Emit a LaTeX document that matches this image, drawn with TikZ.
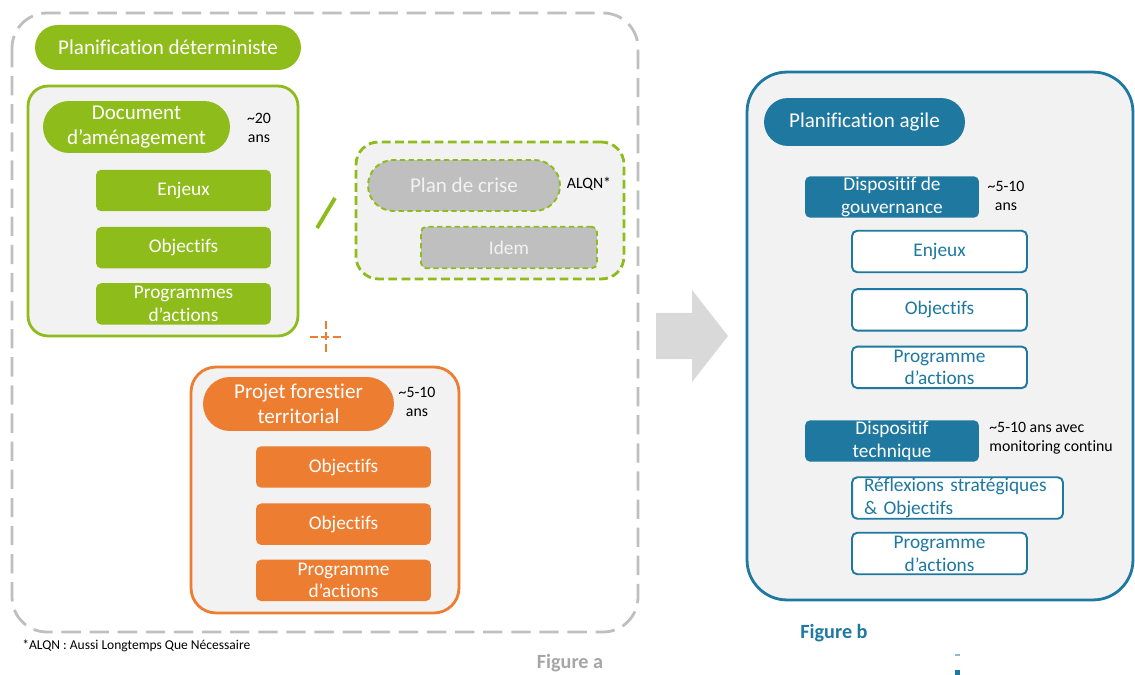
\documentclass[tikz,border=0pt]{standalone}
\usepackage{fontspec}
\setmainfont{Carlito}[Ligatures=NoCommon]
\usepackage{tikz}
\usetikzlibrary{positioning,shapes.misc}
\definecolor{vert}{RGB}{142,188,26}
\definecolor{ora}{RGB}{237,125,49}
\definecolor{bleu}{RGB}{30,120,160}
\definecolor{fond}{RGB}{242,242,242}
\definecolor{gris}{RGB}{191,191,191}
\definecolor{flec}{RGB}{217,217,217}
\definecolor{figa}{RGB}{166,166,166}

\begin{document}
\begin{tikzpicture}[x=0.02cm,y=-0.02cm,
  pill/.style={rounded rectangle,inner sep=0pt,align=center,text=white,font=\fontsize{12}{14}\selectfont},
  bloc/.style={rectangle,rounded corners=3pt,inner sep=0pt,align=center,minimum width=3.5cm,minimum height=0.83cm,font=\fontsize{11}{13}\selectfont},
  cadre/.style={rectangle,draw,line width=1.6pt,fill=fond,inner sep=0pt},
  note/.style={font=\fontsize{9}{11}\selectfont,align=center},
  vide/.style={bloc,draw=bleu,fill=white,text=bleu,line width=1.1pt}]
  \useasboundingbox (0,0) rectangle (1135,675);
  % figure a
  \draw[gris,line width=1.6pt,dash pattern=on 11pt off 5pt,rounded corners=0.7cm] (12,13) rectangle (638,632);
  \node[pill,fill=vert,minimum width=5.32cm,minimum height=0.9cm] (detpill) at (168,47.5) {Planification déterministe};
  \node[cadre,draw=vert,rounded corners=0.4cm,minimum width=5.4cm,minimum height=5cm] (amen) at (163,211) {};
  \node[pill,fill=vert,minimum width=3.74cm,minimum height=1.04cm] (doc) at (136.5,127) {Document\\d’aménagement};
  \node[note] (doc-ans) at (259,128) {\textasciitilde20\\ans};
  \node[bloc,fill=vert,text=white] (enjeux) at (183.5,190.5) {Enjeux};
  \node[bloc,fill=vert,text=white,below=0.3cm of enjeux] (obj) {Objectifs};
  \node[bloc,fill=vert,text=white,below=0.28cm of obj] (prog) {Programmes\\d’actions};
  \draw[vert,line width=2.2pt] (317,228) -- (335,198);
  % plan de crise
  \node[cadre,draw=vert,dash pattern=on 5pt off 2.5pt,rounded corners=0.45cm,minimum width=5.36cm,minimum height=2.74cm] (crise) at (490,210.5) {};
  \node[pill,fill=gris,text=fond,draw=vert,line width=1.1pt,dash pattern=on 3pt off 2pt,minimum width=3.84cm,minimum height=1.02cm] (plan) at (464,185.5) {Plan de crise};
  \node[note] (alqn) at (589,184) {ALQN*};
  \node[bloc,fill=gris,text=fond,draw=vert,line width=1.1pt,dash pattern=on 3pt off 2pt,minimum width=3.52cm] (idem) at (509,247.5) {Idem};
  \draw[ora,line width=1.6pt,dash pattern=on 4.5pt off 2pt] (310,337) -- (342,337) (326,321) -- (326,353);
  % projet forestier
  \node[cadre,draw=ora,rounded corners=0.5cm,minimum width=5.36cm,minimum height=4.92cm] (pft) at (325,490) {};
  \node[pill,fill=ora,minimum width=3.82cm,minimum height=1.08cm] (projet) at (298.5,404) {Projet forestier\\territorial};
  \node[note] (pft-ans) at (417,402) {\textasciitilde5-10\\ans};
  \node[bloc,fill=ora,text=white] (pobj1) at (343.5,467) {Objectifs};
  \node[bloc,fill=ora,text=white,below=0.3cm of pobj1] (pobj2) {Objectifs};
  \node[bloc,fill=ora,text=white,below=0.28cm of pobj2] (pprog) {Programme\\d’actions};
  \node[anchor=west,font=\fontsize{7.7}{10}\selectfont,inner sep=0pt] (renvoi) at (22,646) {*ALQN : Aussi Longtemps Que Nécessaire};
  \node[font=\bfseries\fontsize{11.5}{13}\selectfont,text=figa] (figa) at (570,663) {Figure a};
  % fleche
  \fill[flec] (656,313) -- (692,313) -- (692,290) -- (728,336) -- (692,382) -- (692,359) -- (656,359) -- cycle;
  % figure b
  \node[cadre,draw=bleu,rounded corners=0.8cm,minimum width=7.72cm,minimum height=10.56cm] (agile) at (940,336) {};
  \node[pill,fill=bleu,minimum width=4.02cm,minimum height=0.96cm] (agpill) at (864.5,122) {Planification agile};
  \node[bloc,fill=bleu,text=white,minimum width=3.48cm] (gouv) at (892,197) {Dispositif de\\gouvernance};
  \node[note] (gouv-ans) at (1006,196) {\textasciitilde5-10\\ans};
  \node[vide] (benj) at (939.5,251.5) {Enjeux};
  \node[vide,below=0.3cm of benj] (bobj) {Objectifs};
  \node[vide,below=0.28cm of bobj] (bprog) {Programme\\d’actions};
  \node[bloc,fill=bleu,text=white,minimum width=3.48cm] (tech) at (892,441) {Dispositif\\technique};
  \node[note,align=left,anchor=west,inner sep=0pt] (tech-ans) at (989,438) {\textasciitilde5-10 ans avec\\monitoring continu};
  \node[vide,minimum width=4.22cm,text width=3.74cm,align=left] (refl) at (957.5,498) {Réflexions stratégiques\\\& Objectifs};
  \node[vide] (bprog2) at (939.5,553.5) {Programme\\d’actions};
  \node[font=\bfseries\fontsize{11.5}{13}\selectfont,text=bleu] (figb) at (834,633) {Figure b};
  \fill[bleu!50] (955,654) rectangle (960,656);
  \fill[bleu] (955,670) rectangle (960,675);
\end{tikzpicture}
\end{document}
